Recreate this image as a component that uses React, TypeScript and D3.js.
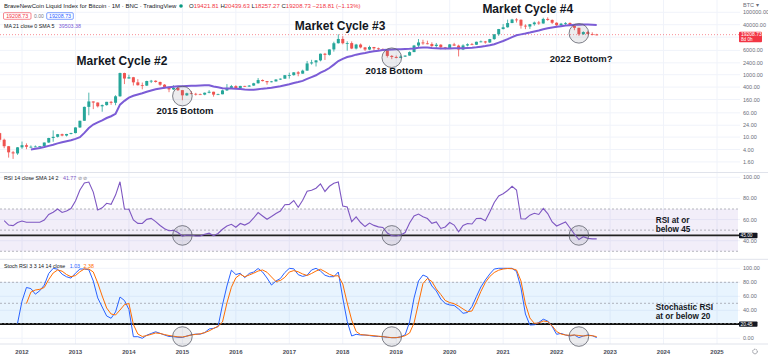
import React from "react";
import * as d3 from "d3";

// ---------- DATA ----------
const startMonth = "2010-07";
const openP = [
  0.05, 0.07, 0.06, 0.06, 0.19, 0.21,
  0.30, 0.52, 0.86, 0.78, 3.5, 8.7, 16.1, 13.4, 8.2, 5.1, 3.25, 3.0,
  4.7, 5.5, 4.9, 4.9, 5.0, 5.15, 6.7, 9.35, 10.2, 12.4, 11.2, 12.6,
  13.45, 20.4, 33.4, 93, 139, 128, 97, 106, 135, 126, 203, 1128,
  754, 829, 570, 460, 447, 628, 640, 585, 478, 387, 338, 378,
  320, 218, 254, 244, 236, 230, 264, 284, 230, 236, 314, 377,
  430, 368, 437, 416, 448, 531, 673, 624, 575, 609, 700, 745,
  964, 970, 1190, 1080, 1350, 2300, 2480, 2875, 4700, 4340, 6450, 10200,
  14000, 10200, 10300, 6900, 9250, 7500, 6400, 7730, 7000, 6600, 6300, 4000,
  3700, 3450, 3800, 4100, 5300, 8600, 10800, 10100, 9600, 8300, 9150, 7550,
  7200, 9350, 8550, 6430, 8650, 9450, 9140, 11350, 11650, 10780, 13800, 19700,
  29000, 33100, 45200, 58800, 57700, 37300, 35000, 41500, 47100, 43800, 61300, 57000,
  46200, 38500, 43200, 45500, 37700, 31800, 19900, 23300, 20050, 19421.81,
];
const highP = [
  0.10, 0.08, 0.07, 0.20, 0.50, 0.30,
  0.55, 1.1, 0.95, 3.9, 9.0, 31.9, 17.5, 13.9, 8.9, 5.2, 3.6, 4.8,
  7.2, 6.3, 5.4, 5.4, 5.2, 6.7, 9.5, 16.4, 12.6, 12.9, 12.7, 13.8,
  20.5, 33.5, 95, 266, 139, 130, 111, 135, 145, 220, 1163, 1160,
  1000, 850, 720, 560, 640, 680, 660, 600, 500, 420, 460, 400,
  320, 265, 300, 262, 248, 268, 320, 285, 247, 332, 500, 470,
  460, 440, 440, 467, 550, 780, 704, 630, 630, 720, 760, 975,
  1160, 1210, 1300, 1450, 2760, 3000, 2950, 4760, 5000, 6470, 11400, 19700,
  17200, 11800, 11700, 9750, 10000, 7770, 8500, 7770, 7400, 7000, 6580, 4250,
  4100, 4200, 4150, 5600, 9000, 13900, 13200, 12300, 10900, 10400, 9500, 7750,
  9600, 10500, 9200, 9450, 10100, 10400, 11450, 12450, 12100, 14100, 19900, 29300,
  41900, 58300, 61700, 64800, 59500, 41300, 42300, 50500, 52900, 67000, 69000, 59000,
  47900, 45800, 48200, 47400, 40000, 32000, 24600, 25200, 22800, 20439.63,
];
const lowP = [
  0.05, 0.05, 0.06, 0.06, 0.19, 0.19,
  0.29, 0.50, 0.75, 0.77, 3.0, 9.0, 12.5, 7.1, 4.4, 2.2, 2.0, 2.7,
  4.2, 4.1, 4.6, 4.8, 4.9, 5.1, 6.5, 7.1, 9.7, 10.6, 10.5, 12.2,
  13.2, 19.6, 33.2, 50, 79, 89, 65, 102, 108, 105, 197, 500,
  750, 450, 450, 340, 437, 540, 560, 440, 360, 275, 320, 300,
  152, 209, 240, 215, 228, 220, 253, 198, 225, 236, 300, 350,
  360, 365, 405, 412, 440, 520, 610, 480, 570, 605, 680, 740,
  750, 930, 890, 1075, 1340, 2100, 1830, 2680, 2970, 4110, 5500, 10000,
  9400, 5900, 6600, 6450, 7000, 5750, 6100, 5880, 6100, 6200, 3550, 3150,
  3350, 3400, 3700, 4050, 5300, 7500, 9100, 9400, 7700, 7300, 6500, 6450,
  6900, 8450, 3850, 6150, 8100, 8900, 8950, 10900, 9900, 10400, 13200, 17600,
  28200, 32300, 45000, 47000, 30000, 28800, 29300, 37300, 39600, 43300, 53300, 42000,
  33000, 34300, 37200, 37600, 26700, 17600, 18800, 19600, 18200, 18257.27,
];
const closeP = [
  0.07, 0.06, 0.06, 0.19, 0.21, 0.30,
  0.52, 0.86, 0.78, 3.5, 8.7, 16.1, 13.4, 8.2, 5.1, 3.25, 3.0, 4.7,
  5.5, 4.9, 4.9, 5.0, 5.15, 6.7, 9.35, 10.2, 12.4, 11.2, 12.6, 13.45,
  20.4, 33.4, 93, 139, 128, 97, 106, 135, 126, 203, 1128, 754,
  829, 570, 460, 447, 628, 640, 585, 478, 387, 338, 378, 320,
  218, 254, 244, 236, 230, 264, 284, 230, 236, 314, 377, 430,
  368, 437, 416, 448, 531, 673, 624, 575, 609, 700, 745, 964,
  970, 1190, 1080, 1350, 2300, 2480, 2875, 4700, 4340, 6450, 10200, 14000,
  10200, 10300, 6900, 9250, 7500, 6400, 7730, 7000, 6600, 6300, 4000, 3700,
  3450, 3800, 4100, 5300, 8600, 10800, 10100, 9600, 8300, 9150, 7550, 7200,
  9350, 8550, 6430, 8650, 9450, 9140, 11350, 11650, 10780, 13800, 19700, 29000,
  33100, 45200, 58800, 57700, 37300, 35000, 41500, 47100, 43800, 61300, 57000, 46200,
  38500, 43200, 45500, 37700, 31800, 19900, 23300, 20050, 19430, 19208.73,
];
const maLength = 21;
const lastPrice = 19208.73;

const rsiStart = "2011-09";
const rsiVals = [
  58.9, 54.8, 54.3, 57.2,
  58.6, 57.4, 57.4, 57.4, 57.4, 59.6, 64.8, 66.9, 70, 66.7, 68.1, 70.5,
  77.6, 88, 94.6, 95.5, 86, 69, 71.1, 75.4, 74.4, 83.2, 95.8, 70,
  69.7, 59.6, 56.4, 56.3, 60.2, 61.1, 58.1, 54.4, 51.4, 49.4, 49.8, 47.7,
  44.4, 45.4, 45.2, 44.4, 44.4, 46.1, 47.1, 44.7, 46.8, 50.8, 53.9, 55.5,
  52.7, 56.3, 54.8, 56.9, 61.5, 66.6, 63.4, 60.3, 62.9, 65.7, 68.1, 74.1,
  74.4, 78, 71.6, 78.2, 86.8, 87.7, 89.7, 93.7, 86.6, 91.5, 94.4, 95.5,
  72.8, 71.9, 58, 62.5, 57.2, 53.4, 56.7, 54.5, 53.1, 52.5, 47.3, 44.8,
  44.4, 45.4, 47.7, 56.7, 63.4, 65.2, 62.7, 61, 56.5, 57.7, 51.6, 53,
  57.2, 54.8, 48.5, 54.4, 56.3, 55.8, 61, 61.2, 58.8, 67.1, 76.1, 82.3,
  84.4, 87.5, 91.5, 88, 60.8, 60.5, 64.2, 65.9, 64.8, 70.5, 65.7, 57.7,
  53.9, 55.8, 57.7, 52, 46.3, 41.1, 43.8, 42.2, 41.7, 41.77,
];

const stochKStart = "2011-12";
const stochK = [
  21.4,
  53, 72.6, 71, 63, 68, 76, 92.6, 99.9, 98.7, 91.6, 87.9, 86,
  93, 99, 99, 97.9, 81.9, 57.6, 44.7, 31.9, 28.6, 37.6, 59, 54,
  41.1, 2.3, 2.3, 0, 4.4, 6.9, 9.3, 7.1, 4.7, 2.6, 2.3, 1.4,
  1.1, 3.3, 5, 6, 5.9, 8.1, 13.3, 14.3, 16.6, 47.6, 74.7, 97.3,
  91.1, 92.9, 86.6, 92.6, 94.7, 99.7, 94.7, 86.1, 76.1, 81.9, 85.4, 94,
  99.9, 99.3, 90.9, 88.4, 90.1, 97.6, 100, 96.1, 90.1, 88, 88, 94.7,
  57.6, 24, 3.3, 5.7, 4.7, 4.7, 3.9, 3, 2.7, 2.3, 1.4, 0.9,
  0.9, 2.1, 5, 23.3, 57.6, 81.9, 90.4, 87.6, 74.7, 67.6, 56.1, 49.7,
  47.6, 46.9, 41.9, 35.7, 36.9, 45.4, 59.7, 73.3, 83.3, 91.9, 99, 100,
  100, 100, 100, 95.4, 71.9, 34.7, 19, 19.3, 22.6, 27.3, 24.7, 16.9,
  5.7, 7, 4.7, 3.3, 4.7, 1, 3.3, 4.7, 3.7, 1.03,
];

const stochDStart = "2012-02";
const stochD = [
  49.7, 66.1, 69, 70, 72.6, 84, 93.3, 97.6, 95.9, 91.1, 88,
  89.6, 95.1, 99, 99, 94.7, 79, 60.4, 43.3, 34.7, 33.3, 40.4, 48.1,
  49.7, 19.7, 6.1, 2.6, 3.9, 5.6, 7.6, 6.9, 5.3, 4, 3, 2.1,
  1.9, 3, 4.7, 5.6, 6.4, 8.1, 10.6, 14, 17.1, 23.3, 50.4, 72.9,
  86.4, 91.3, 88, 90.4, 93, 96.1, 97.6, 94.3, 87.6, 81.1, 82.6, 87.1,
  94.7, 96.7, 95, 91.9, 89.7, 92.6, 96.1, 98.6, 95.3, 91.4, 89, 89.4,
  77.6, 50.4, 26.1, 9.7, 5.4, 4.7, 4.3, 3.7, 3, 2.4, 1.6, 0.9,
  0.9, 1.9, 3.7, 7.6, 21.9, 50.4, 78.3, 85.4, 81.1, 70.4, 62.6, 54,
  51.1, 49.4, 46.1, 41.9, 38, 39, 51.9, 66.9, 79.7, 88.3, 94, 97.3,
  99, 99.7, 99.4, 97.6, 81.9, 49, 29, 21.4, 21.9, 24.7, 23.9, 17.9,
  9.7, 6.1, 4.7, 4.3, 4.7, 4, 3.3, 4, 3.7, 2.38,
];

const yearLabels = ["2012", "2013", "2014", "2015", "2016", "2017", "2018", "2019", "2020", "2021", "2022", "2023", "2024", "2025"];
const priceTicks = [100000, 40000, 16000, 6000, 2400, 1000, 400, 160, 60, 24, 10, 4, 1.6];
const priceTickLabels = ["100000.00", "40000.00", "", "6000.00", "2400.00", "1000.00", "400.00", "160.00", "60.00", "24.00", "10.00", "4.00", "1.60"];
const rsiTicks = [100, 80, 60, 40];
const stochTicks = [100, 80, 60, 40, 0];
const rsiLevel = 45;
const stochLevel = 20.45;

// annotations: [text, decimal year (center), value at baseline, font size]
const priceNotes: [string, number, number, number][] = [
  ["Market Cycle #2", 2013.87, 2000, 12],
  ["2015 Bottom", 2015.05, 55, 9.5],
  ["Market Cycle #3", 2017.95, 27500, 12],
  ["2018 Bottom", 2018.96, 1030, 9.5],
  ["Market Cycle #4", 2021.46, 98000, 12],
  ["2022 Bottom?", 2022.46, 2600, 9.5],
];
// bottoms circled: [month, price]
const bottoms: [string, number][] = [
  ["2015-01", 207],
  ["2018-12", 3500],
  ["2022-06", 21200],
];
// side notes: [line, decimal year (left), value at baseline]
const rsiNotes: [string, number, number][] = [
  ["RSI at or", 2023.854, 56.9],
  ["below 45", 2023.854, 48.3],
];
const stochNotes: [string, number, number][] = [
  ["Stochastic RSI", 2023.854, 41.0],
  ["at or below 20", 2023.854, 28.2],
];

function monthIdx(s: string) {
  const [y, m] = s.split("-").map(Number);
  return (y - 2012) * 12 + (m - 1);
}

export default function App() {
  const W = 768, H = 356, plotR = 740;
  const x = d3.scaleLinear().domain([2012, 2025]).range([22, 717]);
  const xm = (m: number) => x(2012 + m / 12);
  const yP = d3.scaleLog().domain([1000, 100000]).range([74.7, 12.3]);
  const yR = d3.scaleLinear().domain([40, 100]).range([240.7, 177.3]);
  const yS = d3.scaleLinear().domain([0, 100]).range([338.3, 268.3]);

  const mainTop = 0, mainBot = 172.5, rsiBot = 259.3, stBot = 344;

  const i0 = monthIdx(startMonth);
  const candles = closeP.map((c, i) => ({ m: i0 + i, o: openP[i], h: highP[i], l: lowP[i], c }));
  const ma: { m: number; v: number }[] = [];
  closeP.forEach((_, i) => {
    if (i >= maLength - 1) ma.push({ m: i0 + i, v: d3.mean(closeP.slice(i - maLength + 1, i + 1)) as number });
  });

  const series = (start: string, vals: number[]) => vals.map((v, i) => ({ m: monthIdx(start) + i, v }));
  const rsi = series(rsiStart, rsiVals);
  const sk = series(stochKStart, stochK);
  const sd = series(stochDStart, stochD);

  const maLine = d3.line<{ m: number; v: number }>().x(d => xm(d.m)).y(d => yP(d.v));
  const rsiLine = d3.line<{ m: number; v: number }>().x(d => xm(d.m)).y(d => yR(d.v));
  const stLine = d3.line<{ m: number; v: number }>().x(d => xm(d.m)).y(d => yS(d.v));

  const green = "#26a69a", red = "#ef5350";
  const grid = "#f0f3fa";
  const axisTxt = "#6a6d78";
  const font = "'Liberation Sans', Arial, sans-serif";
  const annFont = "'Liberation Sans', Arial, sans-serif";

  const yLast = yP(lastPrice);

  return (
    <svg width={W} height={H} viewBox={`0 0 ${W} ${H}`} style={{ position: "fixed", left: 0, top: 0, background: "#fff" }} fontFamily={font}>
      <defs>
        <clipPath id="mainClip"><rect x={0} y={mainTop} width={plotR} height={mainBot - mainTop} /></clipPath>
        <clipPath id="rsiClip"><rect x={0} y={mainBot} width={plotR} height={rsiBot - mainBot} /></clipPath>
        <clipPath id="stClip"><rect x={0} y={rsiBot} width={plotR} height={stBot - rsiBot} /></clipPath>
      </defs>
      <rect x={0} y={0} width={W} height={H} fill="#fff" />

      {/* vertical grid */}
      {yearLabels.map((_, i) => (
        <line key={"vg" + i} x1={x(2012 + i)} x2={x(2012 + i)} y1={0} y2={stBot} stroke={grid} strokeWidth={1} />
      ))}
      {/* horizontal grids */}
      {priceTicks.map((p, i) => (
        <line key={"hg" + i} x1={0} x2={plotR} y1={yP(p)} y2={yP(p)} stroke={grid} strokeWidth={1} />
      ))}
      {rsiTicks.map((v, i) => (
        <line key={"rg" + i} x1={0} x2={plotR} y1={yR(v)} y2={yR(v)} stroke={grid} strokeWidth={1} />
      ))}
      {stochTicks.map((v, i) => (
        <line key={"sg" + i} x1={0} x2={plotR} y1={yS(v)} y2={yS(v)} stroke={grid} strokeWidth={1} />
      ))}

      {/* pane separators */}
      {[mainBot, rsiBot, stBot].map((y, i) => (
        <line key={"sep" + i} x1={0} x2={W} y1={y} y2={y} stroke="#e0e3eb" strokeWidth={1} />
      ))}

      {/* current price line */}
      <line x1={0} x2={plotR} y1={yLast} y2={yLast} stroke="#f23645" strokeOpacity={0.55} strokeDasharray="1,2" strokeWidth={1} />

      {/* candles + MA */}
      <g clipPath="url(#mainClip)">
        {candles.map((d, i) => {
          const cx = xm(d.m);
          const up = d.c >= d.o;
          const col = up ? green : red;
          const yt = yP(Math.max(d.o, d.c));
          const yb = yP(Math.min(d.o, d.c));
          return (
            <g key={"c" + i}>
              <line x1={cx} x2={cx} y1={yP(d.h)} y2={yP(d.l)} stroke={col} strokeWidth={0.8} />
              <rect x={cx - 1.5} y={yt} width={3} height={Math.max(0.8, yb - yt)} fill={col} />
            </g>
          );
        })}
        <path d={maLine(ma) || ""} fill="none" stroke="#7b5cd6" strokeWidth={2} />
      </g>

      {/* RSI pane */}
      <rect x={0} y={yR(70)} width={738} height={yR(30) - yR(70)} fill="rgba(126,87,194,0.1)" />
      {[70, 50, 30].map((v, i) => (
        <line key={"rl" + i} x1={0} x2={738} y1={yR(v)} y2={yR(v)} stroke="#9598a1" strokeDasharray="2,2" strokeWidth={0.7} />
      ))}
      <line x1={0} x2={plotR} y1={yR(rsiLevel)} y2={yR(rsiLevel)} stroke="#222" strokeWidth={1.8} />
      <g clipPath="url(#rsiClip)">
        <path d={rsiLine(rsi) || ""} fill="none" stroke="#7e57c2" strokeWidth={1.1} />
      </g>

      {/* Stoch pane */}
      <rect x={0} y={yS(80)} width={738} height={yS(20) - yS(80)} fill="rgba(33,150,243,0.1)" />
      {[80, 50].map((v, i) => (
        <line key={"sl" + i} x1={0} x2={738} y1={yS(v)} y2={yS(v)} stroke="#9598a1" strokeDasharray="2,2" strokeWidth={0.7} />
      ))}
      <line x1={0} x2={plotR} y1={yS(stochLevel)} y2={yS(stochLevel)} stroke="#111" strokeWidth={1.8} />
      <line x1={0} x2={plotR} y1={yS(stochLevel) - 0.5} y2={yS(stochLevel) - 0.5} stroke="#fff" strokeOpacity={0.5} strokeDasharray="2,2" strokeWidth={0.6} />
      <g clipPath="url(#stClip)">
        <path d={stLine(sk) || ""} fill="none" stroke="#2962ff" strokeWidth={1} />
        <path d={stLine(sd) || ""} fill="none" stroke="#ff6d00" strokeWidth={1} />
      </g>

      {/* circles */}
      {bottoms.map(([mo, p], i) => {
        const cx = xm(monthIdx(mo));
        return (
          <g key={"bc" + i}>
            <circle cx={cx} cy={yP(p)} r={9.8} fill="rgba(120,123,134,0.14)" stroke="#5d606b" strokeWidth={0.8} />
            <circle cx={cx} cy={yR(rsiLevel)} r={9.8} fill="rgba(120,123,134,0.14)" stroke="#5d606b" strokeWidth={0.8} />
            <circle cx={cx} cy={yS(2.5)} r={9.8} fill="rgba(120,123,134,0.14)" stroke="#5d606b" strokeWidth={0.8} />
          </g>
        );
      })}

      {/* price annotations */}
      {priceNotes.map(([t, yr, p, fs], i) => (
        <text key={"pn" + i} x={x(yr)} y={yP(p)} textAnchor="middle" fontFamily={annFont} fontWeight={700} fontSize={fs} fill="#131722">{t}</text>
      ))}
      {rsiNotes.map(([t, yr, v], i) => (
        <text key={"rn" + i} x={x(yr)} y={yR(v)} fontFamily={annFont} fontWeight={700} fontSize={8.2} fill="#131722">{t}</text>
      ))}
      {stochNotes.map(([t, yr, v], i) => (
        <text key={"sn" + i} x={x(yr)} y={yS(v)} fontFamily={annFont} fontWeight={700} fontSize={8.2} fill="#131722">{t}</text>
      ))}

      {/* right axis labels */}
      <text x={743} y={7} fontSize={5.5} fill={axisTxt}>BTC ▾</text>
      {priceTicks.map((p, i) => priceTickLabels[i] ? (
        <text key={"pl" + i} x={743} y={yP(p) + 2} fontSize={5.5} fill={axisTxt}>{priceTickLabels[i]}</text>
      ) : null)}
      <rect x={739} y={yLast - 3} width={23} height={10.6} rx={1} fill="#f23645" />
      <text x={741} y={yLast + 1.3} fontSize={5} fill="#fff">{lastPrice.toFixed(2)}</text>
      <text x={741} y={yLast + 6} fontSize={4.6} fill="#fff">8d 0h</text>

      {rsiTicks.map((v, i) => (
        <text key={"rt" + i} x={743} y={yR(v) + 2} fontSize={5.5} fill={axisTxt}>{v.toFixed(2)}</text>
      ))}
      <rect x={739} y={yR(rsiLevel) - 2.6} width={18.5} height={5.4} rx={0.8} fill="#131722" />
      <text x={740.5} y={yR(rsiLevel) + 1.7} fontSize={4.8} fill="#fff">{rsiLevel.toFixed(2)}</text>

      {stochTicks.map((v, i) => (
        <text key={"st" + i} x={743} y={yS(v) + 2} fontSize={5.5} fill={axisTxt}>{v.toFixed(2)}</text>
      ))}
      <rect x={739} y={yS(stochLevel) - 2.6} width={18.5} height={5.4} rx={0.8} fill="#131722" />
      <text x={740.5} y={yS(stochLevel) + 1.7} fontSize={4.8} fill="#fff">{stochLevel.toFixed(2)}</text>

      {/* x axis */}
      {yearLabels.map((t, i) => (
        <text key={"yl" + i} x={x(2012 + i)} y={353.5} textAnchor="middle" fontSize={6} fontWeight={700} fill="#4a4d57">{t}</text>
      ))}
      <circle cx={755} cy={351.5} r={2.3} fill="none" stroke="#6a6d78" strokeWidth={0.9} strokeDasharray="1.1,0.7" />

      {/* legends */}
      <text x={4} y={8} fontSize={6} fill="#131722">BraveNewCoin Liquid Index for Bitcoin · 1M · BNC · TradingView</text>
      <circle cx={181} cy={6} r={1.8} fill="#089981" />
      <text x={189} y={8} fontSize={6} fill="#f23645">
        <tspan fill="#131722">O</tspan>19421.81 <tspan fill="#131722">H</tspan>20439.63 <tspan fill="#131722">L</tspan>18257.27 <tspan fill="#131722">C</tspan>19208.73 −218.81 (−1.13%)
      </text>
      <rect x={3.5} y={12.7} width={27.5} height={6.6} rx={1.2} fill="#fff" stroke="#f23645" strokeWidth={0.6} />
      <text x={17.2} y={17.9} textAnchor="middle" fontSize={5.3} fill="#f23645">19208.73</text>
      <text x={34} y={17.9} fontSize={5} fill="#787b86">0.00</text>
      <rect x={46.7} y={12.7} width={26.6} height={6.6} rx={1.2} fill="#fff" stroke="#2962ff" strokeWidth={0.6} />
      <text x={60} y={17.9} textAnchor="middle" fontSize={5.3} fill="#2962ff">19208.73</text>
      <text x={4} y={28} fontSize={5.3} fill="#131722">MA 21 close 0 SMA 5 <tspan fill="#7b5cd6" dx={3}>39503.38</tspan></text>

      <text x={4} y={180.3} fontSize={5.3} fill="#131722">RSI 14 close SMA 14 2 <tspan fill="#7e57c2" dx={3}>41.77</tspan> <tspan fill="#787b86">⊘ ⊘</tspan></text>
      <text x={4} y={267.7} fontSize={5.3} fill="#131722">Stoch RSI 3 3 14 14 close <tspan fill="#2962ff" dx={3}>1.03</tspan> <tspan fill="#ff6d00" dx={2}>2.38</tspan></text>
    </svg>
  );
}
